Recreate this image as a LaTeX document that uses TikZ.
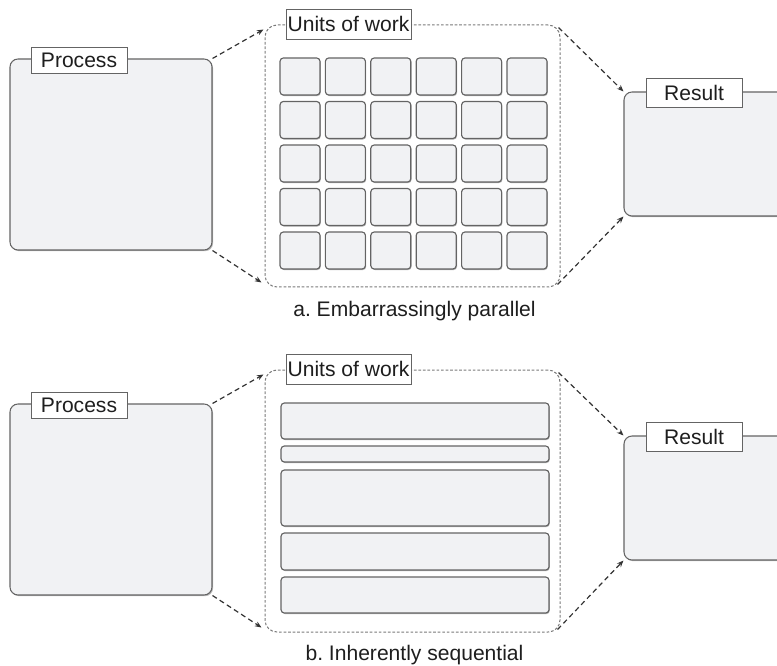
\documentclass[tikz,border=0pt]{standalone}
\usepackage{fontspec}
\setmainfont{Liberation Sans}
\usetikzlibrary{shadows,arrows.meta,calc}
\definecolor{boxfill}{HTML}{F1F2F4}
\definecolor{boxline}{HTML}{646464}
\definecolor{txt}{HTML}{1E1E1E}
\definecolor{dashline}{HTML}{7A7A7A}
\definecolor{arrline}{HTML}{333333}
\frenchspacing
\begin{document}
\begin{tikzpicture}[x=0.75pt,y=-0.75pt,
  panel/.style={draw=boxline,line width=0.8pt,fill=boxfill,rounded corners=6pt,
    drop shadow={shadow xshift=0.8pt,shadow yshift=-0.9pt,fill=black!60,opacity=0.45},
    inner sep=0pt},
  cell/.style={draw=boxline,line width=0.85pt,fill=boxfill,rounded corners=2.5pt,
    drop shadow={shadow xshift=0.6pt,shadow yshift=-0.8pt,fill=black!60,opacity=0.5},
    inner sep=0pt},
  tag/.style={draw=boxline,line width=0.7pt,fill=white,text=txt,inner sep=0pt,
    font=\fontsize{15.8}{18}\selectfont},
  group/.style={draw=dashline,line width=0.75pt,dash pattern=on 2pt off 1.4pt,
    rounded corners=9pt,inner sep=0pt},
  conn/.style={draw=arrline,line width=0.9pt,dash pattern=on 3.8pt off 2.6pt,
    -{Stealth[length=5pt,width=4pt]}},
  caption/.style={text=txt,font=\fontsize{15.8}{18}\selectfont,inner sep=0pt}]
\useasboundingbox (0,0) rectangle (777,666);

% ---------- panel a ----------
\node[panel,minimum width=151.5pt,minimum height=143.25pt] (proc1) at (111,154.5) {};
\node[tag,minimum width=72pt,minimum height=19.5pt] (proc1l) at (79,60) {Process};
\node[group,minimum width=221.25pt,minimum height=196.5pt] (units1) at (412.5,156) {};
\node[tag,minimum width=93.75pt,minimum height=22.5pt] (units1l) at (348.5,24) {Units of work};
\foreach \i in {0,...,5}{
  \foreach \j in {0,...,4}{
    \node[cell,minimum width=30pt,minimum height=27.75pt] (c\i\j) at ({300+45.4*\i},{76.5+43.5*\j}) {};
  }
}
\node[panel,minimum width=132pt,minimum height=93pt] (res1) at (712,154) {};
\node[tag,minimum width=72pt,minimum height=21.75pt] (res1l) at (694,92.5) {Result};
\node[caption] (capa) at (414.5,311) {a. Embarrassingly parallel};

\draw[conn] (proc1.north east) -- ($(units1.north west)+(-1,5)$);
\draw[conn] (proc1.south east) -- ($(units1.south west)+(-3,-5)$);
\draw[conn] ($(units1.north east)+(-2,3)$) -- (res1.north west);
\draw[conn] ($(units1.south east)+(-3,-3)$) -- (res1.south west);

% ---------- panel b ----------
\node[panel,minimum width=151.5pt,minimum height=143.25pt] (proc2) at (111,499.5) {};
\node[tag,minimum width=72pt,minimum height=19.5pt] (proc2l) at (79,405) {Process};
\node[group,minimum width=221.25pt,minimum height=196.5pt] (units2) at (412.5,501) {};
\node[tag,minimum width=93.75pt,minimum height=22.5pt] (units2l) at (348.5,369) {Units of work};
\node[cell,minimum width=201pt,minimum height=27pt] (b1) at (415,421) {};
\node[cell,minimum width=201pt,minimum height=12pt] (b2) at (415,454) {};
\node[cell,minimum width=201pt,minimum height=42pt] (b3) at (415,498) {};
\node[cell,minimum width=201pt,minimum height=27.75pt] (b4) at (415,551.5) {};
\node[cell,minimum width=201pt,minimum height=27pt] (b5) at (415,595) {};
\node[panel,minimum width=132pt,minimum height=93pt] (res2) at (712,498) {};
\node[tag,minimum width=72pt,minimum height=21.75pt] (res2l) at (694,437) {Result};
\node[caption] (capb) at (414.5,655) {b. Inherently sequential};

\draw[conn] (proc2.north east) -- ($(units2.north west)+(-1,5)$);
\draw[conn] (proc2.south east) -- ($(units2.south west)+(-3,-5)$);
\draw[conn] ($(units2.north east)+(-2,3)$) -- (res2.north west);
\draw[conn] ($(units2.south east)+(-3,-3)$) -- (res2.south west);
\end{tikzpicture}
\end{document}
